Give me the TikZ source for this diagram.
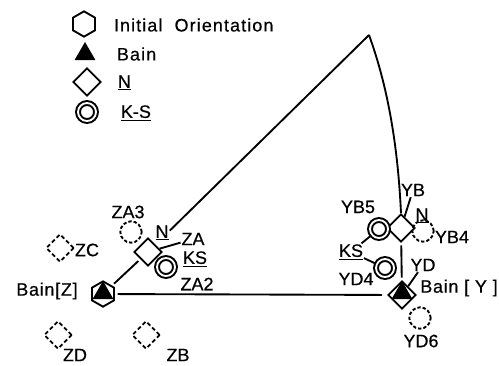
\documentclass[tikz,border=0pt]{standalone}
\usepackage{fontspec}
\setmainfont{Liberation Sans}[FakeBold=0.5]
\usetikzlibrary{shapes.geometric}
\tikzset{
	lbl/.style={inner sep=0, font=\fontsize{13.5}{15}\selectfont},
	hexmark/.style={draw, regular polygon, regular polygon sides=6, shape border rotate=30, inner sep=0, minimum size=19pt},
	trimark/.style={fill, regular polygon, regular polygon sides=3, inner sep=0, minimum size=18pt},
	dia/.style={draw, diamond, inner sep=0, minimum size=21pt},
	ring/.style={circle, draw, double, double distance=1.4pt, line width=1.5pt, inner sep=0, minimum size=13.5pt},
	dashdia/.style={dia, dash pattern=on 3pt off 2pt},
	dashring/.style={circle, draw, dash pattern=on 2.5pt off 1.5pt, inner sep=0, minimum size=16pt}
}
\begin{document}
\begin{tikzpicture}[x=.75pt, y=-.75pt, line width=1.4pt]
	\useasboundingbox (0,0) rectangle (499,365);
	% legend
	\node[hexmark] (hexkey) at (84,24) {};
	\node[trimark] (trikey) at (85,54) {};
	\node[dia] (diakey) at (87,82) {};
	\node[ring] (ringkey) at (87,112) {};
	\node[lbl, anchor=west] (hextxt) at (113,25) {\addfontfeature{LetterSpace=6}Initial\ \ Orientation};
	\node[lbl, anchor=west] (tritxt) at (116,54) {\addfontfeature{LetterSpace=6}Bain};
	\node[lbl, anchor=west] (diatxt) at (117,83) {\underline{N}};
	\node[lbl, anchor=west] (ringtxt) at (120,113) {\underline{K-S}};
	% corners of the triangle
	\coordinate (apex) at (369,35);
	\node[hexmark] (BainZ) at (103,294) {};
	\node[trimark] (BainZtri) at (103,293) {};
	\node[dia] (ZA) at (148,252) {};
	\node[dia] (YB) at (401,228) {};
	\node[dia] (BainY) at (402,295) {};
	\node[trimark] (BainYtri) at (402,293) {};
	\draw[shorten <=2pt, shorten >=2pt] (BainZ) -- (ZA);
	\draw[shorten <=15pt] (ZA) -- (apex);
	\draw (apex) .. controls (389,90) and (398,150) .. (YB.north);
	\draw[shorten <=2pt, shorten >=2pt] (YB) -- (BainY);
	\draw[shorten <=2pt, shorten >=4pt] (BainZ) -- (BainY);
	% Z side
	\node[dashring] (ZA3) at (131,232) {};
	\node[ring] (ZA2) at (166,267) {};
	\node[dashdia] (ZC) at (60,248) {};
	\node[dashdia] (ZD) at (58,335) {};
	\node[dashdia] (ZB) at (146,335) {};
	\node[lbl] (ZA3txt) at (128,212) {ZA3};
	\node[lbl] (ZAn) at (162,233) {\underline{N}};
	\node[lbl] (ZAtxt) at (193,239) {ZA};
	\node[lbl] (ZAks) at (195,259) {\underline{KS}};
	\node[lbl] (ZA2txt) at (197,284) {ZA2};
	\node[lbl] (ZCtxt) at (87,250) {ZC};
	\node[lbl] (ZDtxt) at (75,355) {ZD};
	\node[lbl] (ZBtxt) at (178,355) {ZB};
	\node[lbl] (BainZtxt) at (47,291) {\addfontfeature{LetterSpace=4}Bain[Z]};
	\draw (ZA) -- (ZAtxt);
	% Y side
	\node[ring] (YB5) at (379,229) {};
	\node[dashring] (YB4) at (423,231) {};
	\node[ring] (YD4) at (385,268) {};
	\node[dashring] (YD6) at (420,318) {};
	\node[lbl] (YBtxt) at (413,190) {YB};
	\node[lbl] (YB5txt) at (358,207) {YB5};
	\node[lbl] (YBn) at (422,216) {\underline{N}};
	\node[lbl] (YB4txt) at (452,237) {YB4};
	\node[lbl] (YBks) at (351,252) {\underline{KS}};
	\node[lbl] (YD4txt) at (356,279) {YD4};
	\node[lbl] (YDtxt) at (423,265) {YD};
	\node[lbl] (BainYtxt) at (459,288) {\addfontfeature{LetterSpace=4}Bain [ Y ]};
	\node[lbl] (YD6txt) at (421,341) {YD6};
	\draw (YB) -- (YBtxt);
	\draw (BainY) -- (YDtxt);
	\draw (YBks) -- (YD4);
	\draw (YBks) -- (YB5);
\end{tikzpicture}
\end{document}
